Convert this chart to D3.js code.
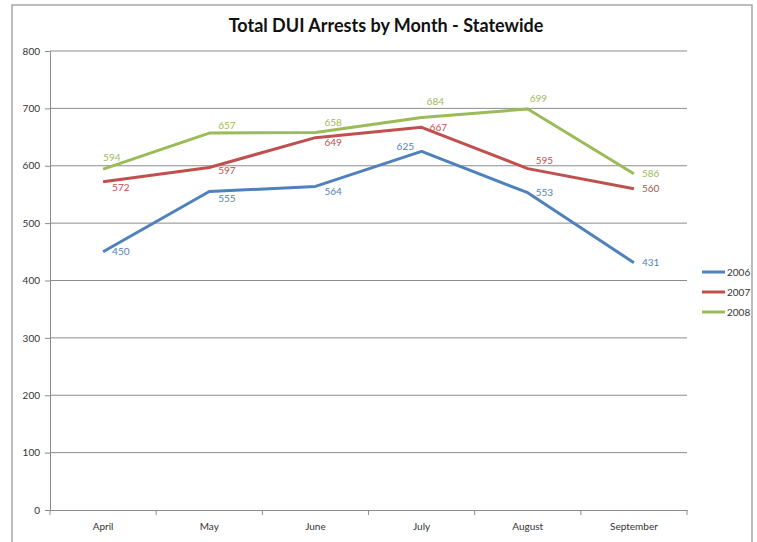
<!DOCTYPE html>
<html>
<head>
<meta charset="utf-8">
<script src="https://cdn.jsdelivr.net/npm/d3@7"></script>
<style>
  body { margin: 0; background: #fff; }
  text { font-family: Lato, "Open Sans", sans-serif; }
</style>
</head>
<body>
<svg id="chart" width="757" height="542"></svg>
<script>
var months = ['April', 'May', 'June', 'July', 'August', 'September']
var years = ['2006', '2007', '2008']
var arrests2006 = [450, 555, 564, 625, 553, 431]
var arrests2007 = [572, 597, 649, 667, 595, 560]
var arrests2008 = [594, 657, 658, 684, 699, 586]
var yTicks = [0, 100, 200, 300, 400, 500, 600, 700, 800]

var series = [arrests2006, arrests2007, arrests2008]
var colors = ['#4f81bd', '#c0504d', '#9bbb59']
// label offsets (dx, dy) per point, as placed in the original
var labelOffsets = [
    [[9, 0], [9, 7], [9, 5], [-25, -5], [8, 0], [8, 0]],
    [[9, 6], [9, 3], [9, 5], [8, 0], [8, -8], [8, 0]],
    [[0, -12], [9, -8], [9, -10], [5, -16], [2, -10], [8, 0]]
]

var svg = d3.select('#chart')
var margin = { left: 50, right: 687, top: 51, bottom: 510 }

var x = d3.scaleBand().domain(months).range([margin.left, margin.right])
var y = d3.scaleLinear().domain([0, 800]).range([margin.bottom, margin.top])

// outer frame
svg.append('rect')
    .attr('x', 12).attr('y', 5)
    .attr('width', 740).attr('height', 560)
    .attr('fill', 'none')
    .attr('stroke', '#a6a6a6')
    .attr('stroke-width', 1.5)

svg.append('text')
    .attr('x', 386).attr('y', 32)
    .attr('text-anchor', 'middle')
    .style('font-size', '18px')
    .style('font-weight', 'bold')
    .attr('fill', '#111')
    .text('Total DUI Arrests by Month - Statewide')

// gridlines
svg.append('g')
    .selectAll('line')
    .data(yTicks.filter(d => d > 0))
    .join('line')
    .attr('x1', margin.left).attr('x2', margin.right)
    .attr('y1', d => y(d)).attr('y2', d => y(d))
    .attr('stroke', '#8c8c8c')
    .attr('stroke-width', 1)

// y axis
svg.append('g')
    .attr('transform', 'translate(' + margin.left + ',0)')
    .call(d3.axisLeft(y).tickValues(yTicks).tickSize(5).tickPadding(5))
    .call(g => g.selectAll('.domain').attr('stroke', '#8c8c8c'))
    .call(g => g.selectAll('.tick line').attr('stroke', '#8c8c8c'))
    .call(g => g.selectAll('text').style('font-size', '10px').attr('fill', '#333').style('font-family', 'Lato, sans-serif'))

// x axis
svg.append('g')
    .attr('transform', 'translate(0,' + margin.bottom + ')')
    .call(d3.axisBottom(x).tickSize(0).tickPadding(13))
    .call(g => g.selectAll('.domain').attr('stroke', '#8c8c8c'))
    .call(g => g.selectAll('text').style('font-size', '10px').attr('fill', '#333').style('font-family', 'Lato, sans-serif'))

// category boundary ticks
svg.append('g')
    .selectAll('line')
    .data(months.map(m => x(m)).concat([x.range()[1]]))
    .join('line')
    .attr('x1', d => d).attr('x2', d => d)
    .attr('y1', margin.bottom).attr('y2', margin.bottom + 5)
    .attr('stroke', '#8c8c8c')

var line = d3.line()
    .x((d, i) => x(months[i]) + x.bandwidth() / 2)
    .y(d => y(d))

svg.append('g')
    .selectAll('.series')
    .data(series)
    .join('path')
    .attr('class', 'series')
    .attr('d', d => line(d))
    .attr('fill', 'none')
    .attr('stroke', (d, i) => colors[i])
    .attr('stroke-width', 3)
    .attr('stroke-linejoin', 'round')

svg.append('g')
    .selectAll('.labels')
    .data(series)
    .join('g')
    .attr('class', 'labels')
    .each(function (s, si) {
        d3.select(this).selectAll('text')
            .data(s)
            .join('text')
            .attr('x', (d, i) => x(months[i]) + x.bandwidth() / 2 + labelOffsets[si][i][0])
            .attr('y', (d, i) => y(d) + labelOffsets[si][i][1])
            .attr('dy', '0.35em')
            .style('font-size', '10px')
            .attr('fill', colors[si])
            .text(d => d)
    })

// legend
var legend = svg.append('g')
    .selectAll('g')
    .data(years)
    .join('g')
    .attr('transform', (d, i) => 'translate(702,' + (272 + i * 20) + ')')

legend.append('line')
    .attr('x1', 0).attr('x2', 23)
    .attr('stroke', (d, i) => colors[i])
    .attr('stroke-width', 3)

legend.append('text')
    .attr('x', 25).attr('dy', '0.35em')
    .style('font-size', '10px')
    .attr('fill', '#333')
    .text(d => d)
</script>
</body>
</html>
